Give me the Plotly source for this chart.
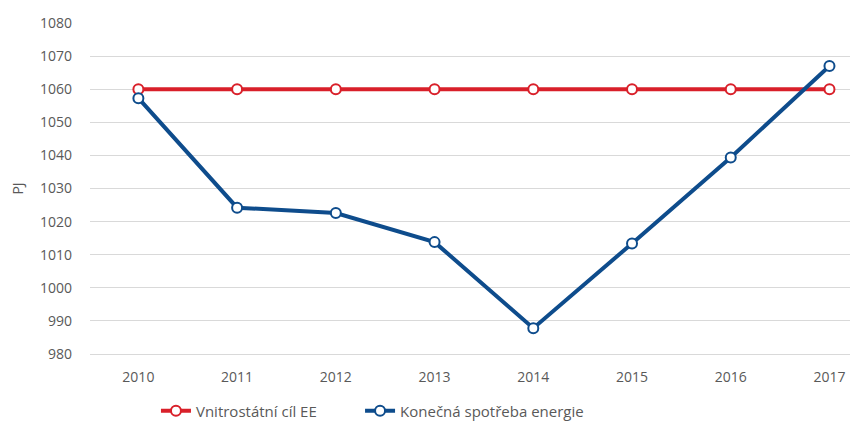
import plotly.graph_objects as go

years = ["2010", "2011", "2012", "2013", "2014", "2015", "2016", "2017"]
target = [1060, 1060, 1060, 1060, 1060, 1060, 1060, 1060]
consumption = [1057.3, 1024.2, 1022.6, 1013.8, 987.8, 1013.4, 1039.4, 1067.0]
yticks = [980, 990, 1000, 1010, 1020, 1030, 1040, 1050, 1060, 1070, 1080]

RED = "#D9202A"
BLUE = "#0E4C8C"

fig = go.Figure()
fig.add_trace(go.Scatter(
    x=years, y=target, name="Vnitrostátní cíl EE", mode="lines+markers",
    line=dict(color=RED, width=4),
    marker=dict(symbol="circle", size=10, color="white", line=dict(color=RED, width=2)),
    legend="legend",
))
fig.add_trace(go.Scatter(
    x=years, y=consumption, name="Konečná spotřeba energie", mode="lines+markers",
    line=dict(color=BLUE, width=4),
    marker=dict(symbol="circle", size=10, color="white", line=dict(color=BLUE, width=2)),
    legend="legend2",
))

leg_common = dict(orientation="h", xanchor="left", y=-0.172, yanchor="middle",
                  font=dict(size=15, color="#595959"), itemwidth=30,
                  bgcolor="rgba(0,0,0,0)")

fig.update_layout(
    width=858, height=421,
    margin=dict(l=82, r=0, t=15, b=75),
    paper_bgcolor="white", plot_bgcolor="white",
    font=dict(family="Open Sans, Liberation Sans, sans-serif", size=14, color="#595959"),
    showlegend=True,
    legend=dict(x=0.085, **leg_common),
    legend2=dict(x=0.348, **leg_common),
    xaxis=dict(type="category", range=[-0.49, 7.37], showgrid=False, showline=True,
               linecolor="#d9d9d9", linewidth=1, ticks="", tickfont=dict(size=14),
               ticklabelstandoff=10),
    yaxis=dict(range=[980, 1080], tickvals=yticks, showgrid=True, gridcolor="#d9d9d9",
               gridwidth=1, zeroline=False, showline=False, ticks="",
               ticklabelstandoff=17,
               title=dict(text="PJ", font=dict(size=14), standoff=22)),
)

fig.write_html("out.html")
